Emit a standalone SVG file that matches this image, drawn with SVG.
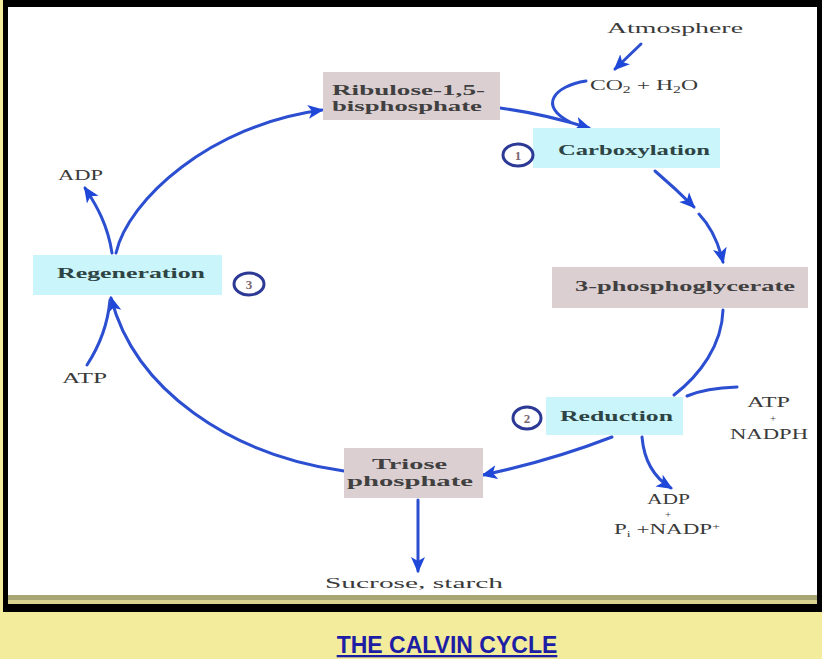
<svg xmlns="http://www.w3.org/2000/svg" width="822" height="659" viewBox="0 0 822 659">
<style>
.lbl{font-family:"Liberation Serif","Times New Roman",serif;font-size:15px;fill:#3a3a3a}
.pl{font-family:"Liberation Serif","Times New Roman",serif;font-size:10px;fill:#3a3a3a}
.bx{font-family:"Liberation Serif","Times New Roman",serif;font-size:15px;font-weight:bold;fill:#404040}
.st{font-family:"Liberation Serif","Times New Roman",serif;font-size:15px;fill:#2e4444;font-weight:bold}
.num{font-family:"Liberation Serif","Times New Roman",serif;font-size:13px;font-weight:bold;fill:#7a6670}
.pink{fill:#dccfd2}
.cyan{fill:#c9f5fb}
.ring{fill:none;stroke:#2c3a96;stroke-width:3}
.ar{fill:none;stroke:#2b4fd0;stroke-width:3;stroke-linecap:round}
</style>
<defs>
<marker id="ah" markerUnits="userSpaceOnUse" markerWidth="18" markerHeight="16" refX="14" refY="8" orient="auto">
<path d="M0,1 L16,8 L0,15 L4,8 Z" fill="#2048d8"/>
</marker>
</defs>
<rect x="0" y="0" width="822" height="659" fill="#f3ec9c"/>
<rect x="3" y="0" width="819" height="612" fill="#000"/>
<rect x="8" y="7" width="809" height="588" fill="#fff"/>
<rect x="8" y="595" width="809" height="5" fill="#a9a675"/>
<rect x="8" y="600" width="809" height="4" fill="#d9d291"/>

<g id="connectors">
<path class="ar" d="M641,44 L615,69" marker-end="url(#ah)"/>
<path class="ar" d="M586,81 C554,86 538,106 570,122"/>
<path class="ar" d="M500,108 Q545,114 589,128" marker-end="url(#ah)"/>
<path class="ar" d="M655,171 Q676,189 694,207" marker-end="url(#ah)"/>
<path class="ar" d="M699,214 Q716,232 723,262" marker-end="url(#ah)"/>
<path class="ar" d="M723,310 C722,345 700,375 674,395"/>
<path class="ar" d="M737,387 Q706,388 687,396"/>
<path class="ar" d="M612,437 Q550,461 483,475" marker-end="url(#ah)"/>
<path class="ar" d="M642,437 Q645,472 671,488" marker-end="url(#ah)"/>
<path class="ar" d="M418,500 L418,571" marker-end="url(#ah)"/>
<path class="ar" d="M344,471 C230,455 135,390 111,298" marker-end="url(#ah)"/>
<path class="ar" d="M87,365 C100,345 108,322 110,300"/>
<path class="ar" d="M112,253 C108,226 97,206 85,188" marker-end="url(#ah)"/>
<path class="ar" d="M116,253 C128,200 210,125 322,110" marker-end="url(#ah)"/>
</g>

<g id="atmosphere"><text class="lbl" x="607" y="33" textLength="136" lengthAdjust="spacingAndGlyphs">Atmosphere</text></g>
<g id="co2"><text class="lbl" x="590" y="90" textLength="108" lengthAdjust="spacingAndGlyphs">CO<tspan font-size="10" dy="3">2</tspan><tspan dy="-3"> + H</tspan><tspan font-size="10" dy="3">2</tspan><tspan dy="-3">O</tspan></text></g>

<g id="ribulose">
<rect class="pink" x="323" y="72" width="177" height="48"/>
<text class="bx" x="332" y="95" textLength="153" lengthAdjust="spacingAndGlyphs">Ribulose-1,5-</text>
<text class="bx" x="332" y="111" textLength="150" lengthAdjust="spacingAndGlyphs">bisphosphate</text>
</g>

<g id="carboxylation">
<rect class="cyan" x="533" y="128" width="187" height="40"/>
<text class="st" x="558" y="155" textLength="152" lengthAdjust="spacingAndGlyphs">Carboxylation</text>
<ellipse class="ring" cx="518" cy="155" rx="15" ry="11"/>
<text class="num" x="518" y="159.5" text-anchor="middle">1</text>
</g>

<g id="pga">
<rect class="pink" x="552" y="267" width="256" height="41"/>
<text class="bx" x="575" y="291" textLength="220" lengthAdjust="spacingAndGlyphs">3-phosphoglycerate</text>
</g>

<g id="atp-nadph">
<text class="lbl" x="747" y="407" textLength="43" lengthAdjust="spacingAndGlyphs">ATP</text>
<text class="pl" x="773" y="422" text-anchor="middle">+</text>
<text class="lbl" x="730" y="439" textLength="78" lengthAdjust="spacingAndGlyphs">NADPH</text>
</g>

<g id="reduction">
<rect class="cyan" x="546" y="397" width="137" height="38"/>
<text class="st" x="560" y="421" textLength="113" lengthAdjust="spacingAndGlyphs">Reduction</text>
<ellipse class="ring" cx="527" cy="418" rx="14" ry="11"/>
<text class="num" x="527" y="422.5" text-anchor="middle">2</text>
</g>

<g id="triose">
<rect class="pink" x="344" y="448" width="139" height="50"/>
<text class="bx" x="372" y="469" textLength="75" lengthAdjust="spacingAndGlyphs">Triose</text>
<text class="bx" x="347" y="486" textLength="126" lengthAdjust="spacingAndGlyphs">phosphate</text>
</g>

<g id="adp-nadp">
<text class="lbl" x="647" y="504" textLength="43" lengthAdjust="spacingAndGlyphs">ADP</text>
<text class="pl" x="668" y="518" text-anchor="middle">+</text>
<text class="lbl" x="614" y="534" textLength="106" lengthAdjust="spacingAndGlyphs">P<tspan font-size="9" dy="3">i</tspan><tspan dy="-3"> +NADP</tspan><tspan font-size="9" dy="-5">+</tspan></text>
</g>

<g id="sucrose"><text class="lbl" x="325" y="588" textLength="178" lengthAdjust="spacingAndGlyphs">Sucrose,  starch</text></g>

<g id="adp-left"><text class="lbl" x="58" y="180" textLength="45" lengthAdjust="spacingAndGlyphs">ADP</text></g>

<g id="regeneration">
<rect class="cyan" x="33" y="255" width="189" height="40"/>
<text class="st" x="57" y="278" textLength="148" lengthAdjust="spacingAndGlyphs">Regeneration</text>
<ellipse class="ring" cx="249" cy="284" rx="15" ry="11"/>
<text class="num" x="249" y="288.5" text-anchor="middle">3</text>
</g>

<g id="atp-left"><text class="lbl" x="62" y="383" textLength="45" lengthAdjust="spacingAndGlyphs">ATP</text></g>

<g id="title"><text x="447" y="653" text-anchor="middle" font-family="Liberation Sans, Arial, sans-serif" font-size="23" font-weight="bold" fill="#1e1ea4" text-decoration="underline">THE CALVIN CYCLE</text></g>
</svg>
